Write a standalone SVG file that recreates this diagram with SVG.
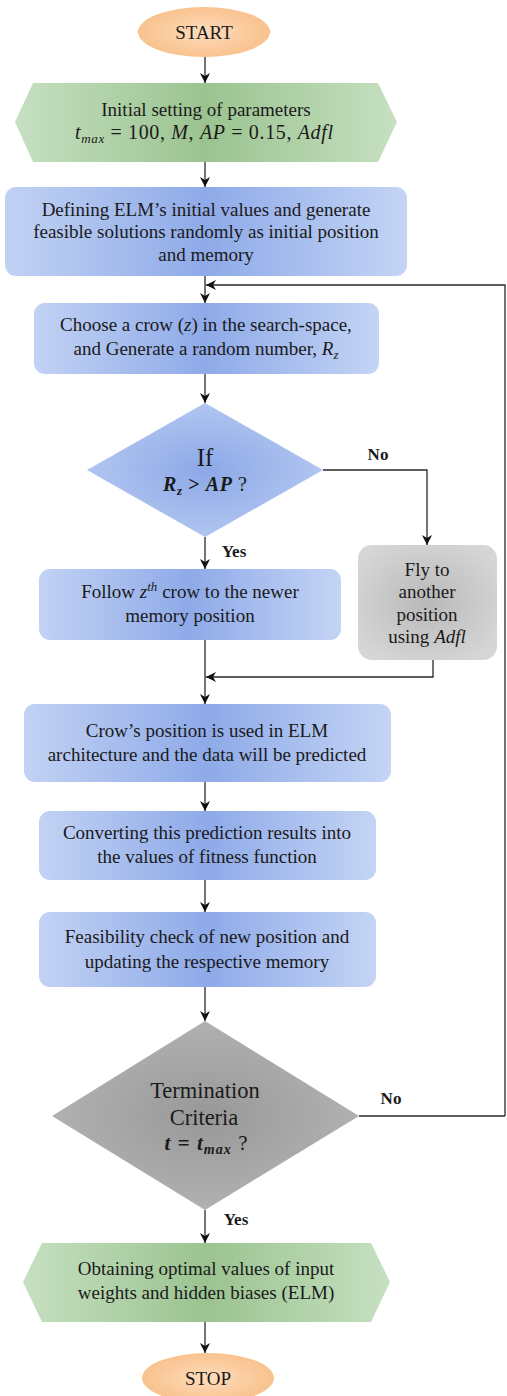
<svg xmlns="http://www.w3.org/2000/svg" width="507" height="1396" viewBox="0 0 507 1396">
  <defs>
    <linearGradient id="gBlue" x1="0" y1="0" x2="1" y2="0">
      <stop offset="0" stop-color="#c2d2f4"/>
      <stop offset="0.5" stop-color="#8eaae8"/>
      <stop offset="1" stop-color="#c4d4f5"/>
    </linearGradient>
    <radialGradient id="gBlueR" cx="0.5" cy="0.5" r="0.6">
      <stop offset="0" stop-color="#8ca8e7"/>
      <stop offset="1" stop-color="#b8cbf2"/>
    </radialGradient>
    <linearGradient id="gGreen" x1="0" y1="0" x2="1" y2="0">
      <stop offset="0" stop-color="#c6e0c1"/>
      <stop offset="0.5" stop-color="#9bc390"/>
      <stop offset="1" stop-color="#c6e0c1"/>
    </linearGradient>
    <radialGradient id="gGray" cx="0.5" cy="0.5" r="0.6">
      <stop offset="0" stop-color="#b9b9b9"/>
      <stop offset="1" stop-color="#d6d6d6"/>
    </radialGradient>
    <radialGradient id="gGrayD" cx="0.5" cy="0.5" r="0.6">
      <stop offset="0" stop-color="#989898"/>
      <stop offset="1" stop-color="#b6b6b6"/>
    </radialGradient>
    <radialGradient id="gOrange" cx="0.5" cy="0.5" r="0.6">
      <stop offset="0" stop-color="#fddcbb"/>
      <stop offset="1" stop-color="#f8bd85"/>
    </radialGradient>
    <marker id="arr" viewBox="0 0 10 10" refX="10" refY="5" markerWidth="10" markerHeight="10" markerUnits="userSpaceOnUse" orient="auto">
      <path d="M0,0 L10,5 L0,10 L3,5 Z" fill="#111"/>
    </marker>
  </defs>
  <style>
    text { font-family: "Liberation Serif", "DejaVu Serif", serif; fill: #1a1a1a; text-anchor: middle; }
    .t { font-size: 19px; }
    .m { font-style: italic; }
    .lbl { font-size: 17px; font-weight: bold; }
    .conn { fill: none; stroke: #2a2a2a; stroke-width: 1.3; }
  </style>

  <rect x="0" y="0" width="507" height="1396" fill="#ffffff"/>

  <!-- connectors -->
  <g id="connectors">
    <path class="conn" d="M205,57 V83" marker-end="url(#arr)"/>
    <path class="conn" d="M205,162 V187" marker-end="url(#arr)"/>
    <path class="conn" d="M205,276 V303" marker-end="url(#arr)"/>
    <path class="conn" d="M505,1116 V285 H206" marker-end="url(#arr)"/>
    <path class="conn" d="M359,1116 H505"/>
    <path class="conn" d="M205,374 V403" marker-end="url(#arr)"/>
    <path class="conn" d="M323,470 H427 V545" marker-end="url(#arr)"/>
    <path class="conn" d="M205,537 V569" marker-end="url(#arr)"/>
    <path class="conn" d="M205,640 V704" marker-end="url(#arr)"/>
    <path class="conn" d="M433,660 V677 H206" marker-end="url(#arr)"/>
    <path class="conn" d="M205,782 V811" marker-end="url(#arr)"/>
    <path class="conn" d="M205,880 V912" marker-end="url(#arr)"/>
    <path class="conn" d="M205,987 V1021" marker-end="url(#arr)"/>
    <path class="conn" d="M205,1210 V1243" marker-end="url(#arr)"/>
    <path class="conn" d="M205,1322 V1353" marker-end="url(#arr)"/>
    <text class="lbl" x="378" y="460">No</text>
    <text class="lbl" x="234" y="557">Yes</text>
    <text class="lbl" x="391" y="1104">No</text>
    <text class="lbl" x="236" y="1225">Yes</text>
  </g>

  <g id="start">
    <ellipse cx="204" cy="32" rx="66" ry="25" fill="url(#gOrange)"/>
    <text class="t" x="204" y="39">START</text>
  </g>

  <g id="init-params">
    <polygon points="33,83 378,83 397,122 378,162 33,162 15,122" fill="url(#gGreen)"/>
    <text class="t" x="206" y="116">Initial setting of parameters</text>
    <text x="204" y="139" font-size="20" textLength="258" lengthAdjust="spacing"><tspan class="m">t</tspan><tspan class="m" font-size="13" dy="4">max</tspan><tspan dy="-4"> = 100, </tspan><tspan class="m">M</tspan><tspan>, </tspan><tspan class="m">AP</tspan><tspan> = 0.15, </tspan><tspan class="m">Adfl</tspan></text>
  </g>

  <g id="define-elm">
    <rect x="5" y="187" width="402" height="89" rx="11" fill="url(#gBlue)"/>
    <text class="t" x="206" y="216">Defining ELM’s initial values and generate</text>
    <text class="t" x="206" y="238">feasible  solutions randomly as initial position</text>
    <text class="t" x="206" y="261">and memory</text>
  </g>

  <g id="choose-crow">
    <rect x="34" y="303" width="345" height="71" rx="11" fill="url(#gBlue)"/>
    <text class="t" x="206" y="331">Choose a crow (<tspan class="m">z</tspan>) in the search-space,</text>
    <text class="t" x="206" y="355">and Generate a random number, <tspan class="m">R</tspan><tspan class="m" font-size="13" dy="4">z</tspan></text>
  </g>

  <g id="decision-ap">
    <polygon points="205,403 323,470 205,537 87,470" fill="url(#gBlueR)"/>
    <text x="205" y="466" font-size="25">If</text>
    <text x="205" y="491" font-size="20" textLength="84" lengthAdjust="spacing"><tspan class="m" font-weight="bold">R</tspan><tspan class="m" font-weight="bold" font-size="13" dy="4">z</tspan><tspan dy="-4" font-weight="bold"> &gt; </tspan><tspan class="m" font-weight="bold">AP</tspan><tspan> ?</tspan></text>
  </g>

  <g id="follow-crow">
    <rect x="39" y="569" width="302" height="71" rx="11" fill="url(#gBlue)"/>
    <text class="t" x="190" y="598">Follow <tspan class="m">z</tspan><tspan class="m" font-size="13" dy="-7">th</tspan><tspan dy="7"> crow to the newer</tspan></text>
    <text class="t" x="190" y="622">memory position</text>
  </g>

  <g id="fly-random">
    <rect x="358" y="545" width="139" height="115" rx="14" fill="url(#gGray)"/>
    <text class="t" x="427" y="576">Fly to</text>
    <text class="t" x="427" y="598">another</text>
    <text class="t" x="427" y="621">position</text>
    <text class="t" x="427" y="643">using <tspan class="m">Adfl</tspan></text>
  </g>

  <g id="elm-predict">
    <rect x="24" y="704" width="367" height="78" rx="11" fill="url(#gBlue)"/>
    <text class="t" x="207" y="737">Crow’s position is used in ELM</text>
    <text class="t" x="207" y="761">architecture  and the data will be predicted</text>
  </g>

  <g id="fitness">
    <rect x="39" y="811" width="337" height="69" rx="11" fill="url(#gBlue)"/>
    <text class="t" x="207" y="839">Converting this prediction results  into</text>
    <text class="t" x="207" y="863">the values of fitness  function</text>
  </g>

  <g id="feasibility">
    <rect x="39" y="912" width="337" height="75" rx="11" fill="url(#gBlue)"/>
    <text class="t" x="207" y="943">Feasibility  check of new position and</text>
    <text class="t" x="207" y="968">updating the respective  memory</text>
  </g>

  <g id="termination">
    <polygon points="205,1021 359,1116 205,1210 52,1116" fill="url(#gGrayD)"/>
    <text x="205" y="1098" font-size="22.5">Termination</text>
    <text x="204" y="1125" font-size="22.5">Criteria</text>
    <text x="206" y="1150" font-size="21" textLength="83" lengthAdjust="spacing"><tspan class="m" font-weight="bold">t</tspan><tspan font-weight="bold"> = </tspan><tspan class="m" font-weight="bold">t</tspan><tspan class="m" font-weight="bold" font-size="14" dy="4">max</tspan><tspan dy="-4"> ?</tspan></text>
  </g>

  <g id="optimal">
    <polygon points="42,1243 371,1243 390,1282 371,1322 42,1322 23,1282" fill="url(#gGreen)"/>
    <text class="t" x="206" y="1275">Obtaining optimal values of input</text>
    <text class="t" x="206" y="1299">weights and hidden biases (ELM)</text>
  </g>

  <g id="stop">
    <ellipse cx="208" cy="1378" rx="66" ry="25" fill="url(#gOrange)"/>
    <text class="t" x="208" y="1385">STOP</text>
  </g>
</svg>
